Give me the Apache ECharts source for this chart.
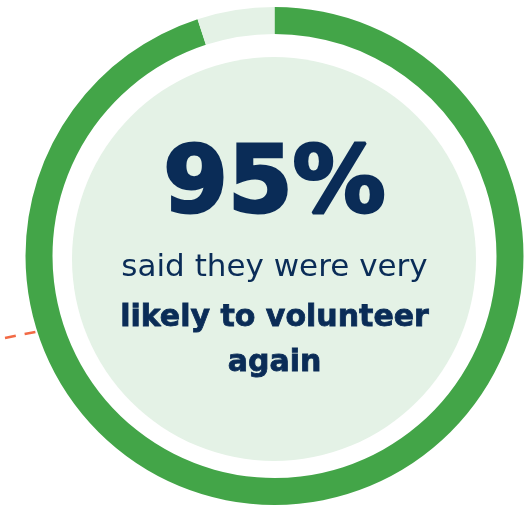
<!DOCTYPE html>
<html>
<head>
<meta charset="utf-8">
<style>
  html, body { margin: 0; padding: 0; background: #ffffff; }
  #chart { width: 529px; height: 506px; }
</style>
<script src="https://cdn.jsdelivr.net/npm/echarts@6/dist/echarts.min.js"></script>
</head>
<body>
<div id="chart"></div>
<script>
// Share of volunteers by answer
const categories = ['Very likely to volunteer again', 'Other'];
const values = [95, 5];
const colors = ['#43a548', '#e4f2e6'];

// Caption lines under the headline number
const captionRegular = 'said they were very';
const captionBold = ['likely to volunteer', 'again'];

const navy = '#0a2c57';
const cx = 274.5, cy = 256;

const chart = echarts.init(document.getElementById('chart'), null, { renderer: 'canvas' });

chart.setOption({
  animation: false,
  backgroundColor: '#ffffff',
  graphic: [
    {
      type: 'line',
      z: 0,
      shape: { x1: 5, y1: 338, x2: 60, y2: 327 },
      style: { stroke: '#f26a45', lineWidth: 2.5, lineDash: [11, 9] }
    },
    {
      type: 'text',
      z: 100,
      style: {
        text: values[0] + '%',
        x: cx, y: 188,
        align: 'center', verticalAlign: 'middle',
        fill: navy,
        stroke: navy,
        lineWidth: 3,
        font: 'bold 93px "DejaVu Sans"'
      }
    },
    {
      type: 'text',
      z: 100,
      style: {
        text: captionRegular,
        x: cx, y: 268,
        align: 'center', verticalAlign: 'middle',
        fill: navy,
        font: '400 31px "DejaVu Sans"'
      }
    },
    {
      type: 'text',
      z: 100,
      style: {
        text: captionBold[0],
        x: cx, y: 318,
        align: 'center', verticalAlign: 'middle',
        fill: navy,
        stroke: navy,
        lineWidth: 0.8,
        font: 'bold 30px "DejaVu Sans"'
      }
    },
    {
      type: 'text',
      z: 100,
      style: {
        text: captionBold[1],
        x: cx, y: 363,
        align: 'center', verticalAlign: 'middle',
        fill: navy,
        stroke: navy,
        lineWidth: 0.8,
        font: 'bold 30px "DejaVu Sans"'
      }
    }
  ],
  series: [
    {
      type: 'pie',
      silent: true,
      center: [cx, cy],
      radius: [222, 249],
      startAngle: 90,
      clockwise: true,
      label: { show: false },
      labelLine: { show: false },
      itemStyle: { borderWidth: 0 },
      data: categories.map((name, i) => ({
        name, value: values[i], itemStyle: { color: colors[i] }
      }))
    },
    {
      type: 'pie',
      silent: true,
      center: [274, 259],
      radius: [0, 202],
      label: { show: false },
      labelLine: { show: false },
      itemStyle: { color: '#e4f2e6', borderWidth: 0 },
      data: [{ name: 'inner', value: 1 }]
    }
  ]
});
</script>
</body>
</html>
